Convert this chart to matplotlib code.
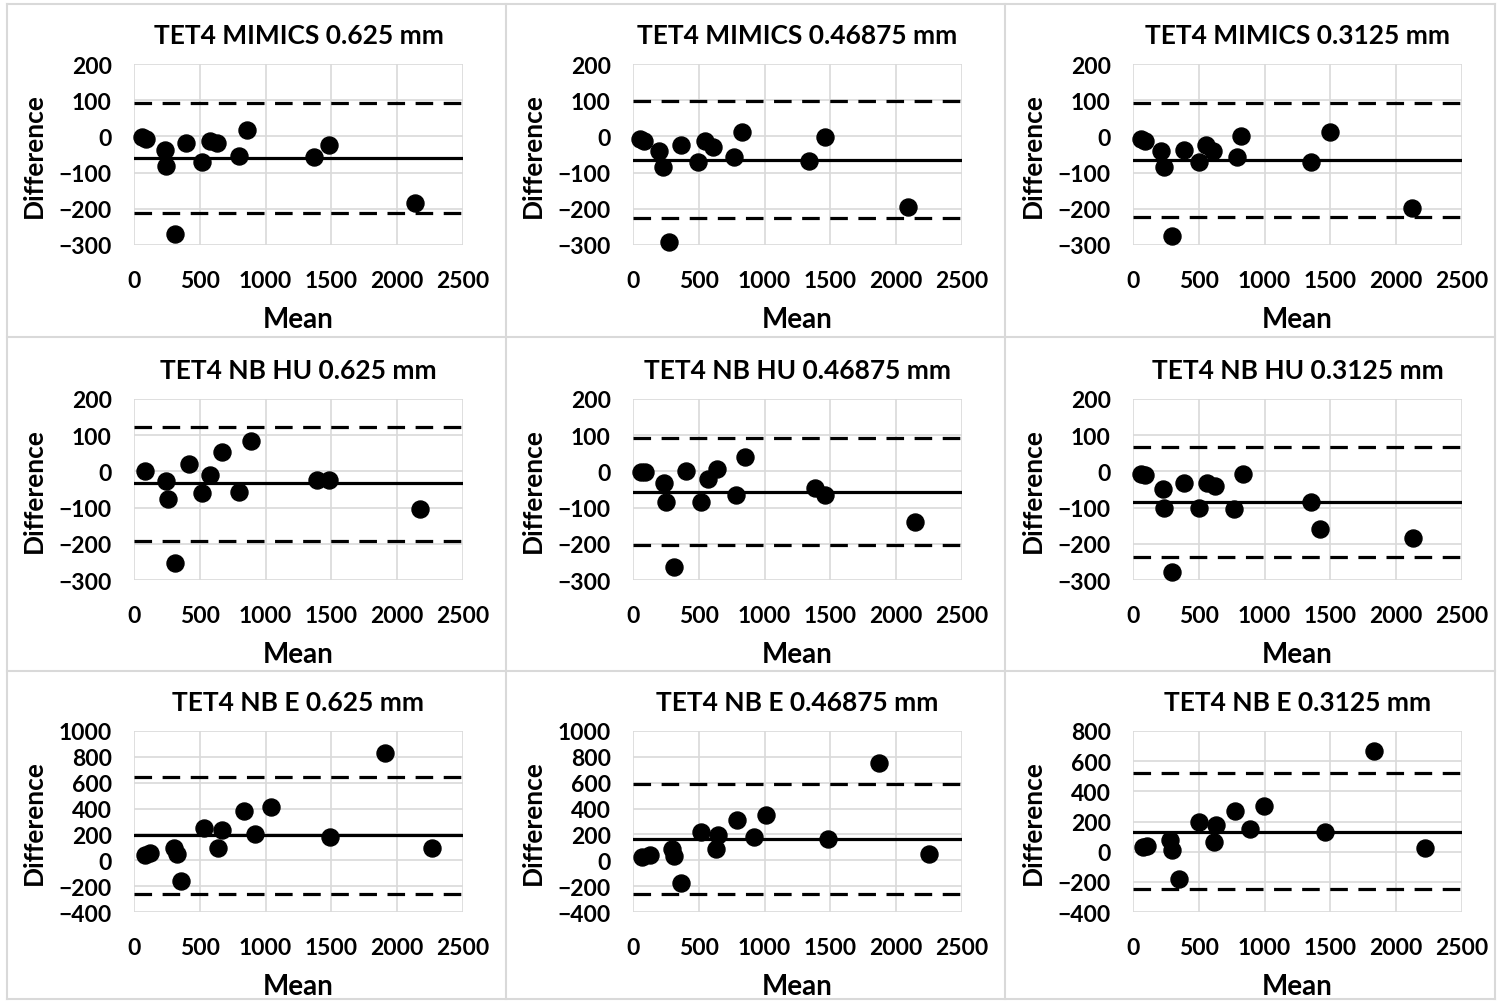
import numpy as np
import matplotlib
matplotlib.use('Agg')
import matplotlib.pyplot as plt
from matplotlib.lines import Line2D

plt.rcParams['font.family'] = ['Lato', 'DejaVu Sans']
plt.rcParams['font.weight'] = 'bold'

titles = ['TET4 MIMICS 0.625 mm', 'TET4 MIMICS 0.46875 mm', 'TET4 MIMICS 0.3125 mm',
          'TET4 NB HU 0.625 mm', 'TET4 NB HU 0.46875 mm', 'TET4 NB HU 0.3125 mm',
          'TET4 NB E 0.625 mm', 'TET4 NB E 0.46875 mm', 'TET4 NB E 0.3125 mm']

# mean of the two methods (x) and difference (y), one list per panel
means = [
    [63, 94, 233, 246, 314, 393, 519, 580, 631, 795, 856, 1368, 1479, 2138],
    [56, 86, 195, 228, 273, 365, 491, 549, 608, 767, 828, 1337, 1459, 2092],
    [61, 89, 215, 233, 296, 385, 499, 555, 608, 790, 823, 1355, 1494, 2120],
    [86, 246, 258, 314, 415, 519, 580, 671, 795, 892, 1391, 1482, 2173],
    [63, 94, 233, 253, 309, 405, 517, 570, 638, 785, 853, 1381, 1457, 2146],
    [61, 94, 228, 238, 296, 385, 504, 562, 620, 765, 833, 1355, 1418, 2128],
    [86, 124, 301, 327, 360, 529, 638, 669, 836, 922, 1044, 1487, 1905, 2267],
    [71, 127, 299, 309, 362, 519, 628, 646, 793, 917, 1013, 1482, 1869, 2247],
    [76, 106, 284, 296, 352, 499, 613, 633, 778, 892, 993, 1461, 1834, 2222],
]
diffs = [
    [-2, -7, -37, -81, -270, -19, -70, -12, -18, -53, 18, -58, -24, -184],
    [-6, -12, -40, -84, -293, -24, -70, -12, -28, -58, 11, -67, -3, -194],
    [-6, -12, -40, -84, -274, -37, -72, -24, -40, -58, 2, -72, 11, -199],
    [0, -26, -75, -252, 20, -59, -10, 53, -57, 85, -24, -24, -103],
    [-3, -3, -33, -84, -263, 0, -84, -21, 8, -65, 41, -45, -65, -139],
    [-7, -10, -49, -102, -279, -31, -100, -33, -40, -105, -6, -84, -158, -184],
    [39, 54, 98, 46, -160, 253, 98, 235, 381, 201, 412, 183, 827, 98],
    [28, 41, 85, 34, -173, 222, 85, 196, 312, 183, 350, 162, 755, 52],
    [31, 38, 75, 11, -183, 197, 64, 175, 270, 148, 303, 133, 667, 22],
]
bias = [-61, -65, -64, -33, -56, -85, 196, 162, 133]
upper_loa = [91, 99, 91, 122, 93, 67, 647, 588, 519]
lower_loa = [-212, -226, -222, -193, -204, -237, -258, -263, -245]

y_ranges = [(-300, 200, 100)] * 6 + [(-400, 1000, 200), (-400, 1000, 200), (-400, 800, 200)]
x_ticks = [0, 500, 1000, 1500, 2000, 2500]

W, H = 1497, 1003
fig = plt.figure(figsize=(W / 100, H / 100), dpi=100)

col_left = [134, 633, 1133]
row_top = [65, 400, 732]
aw, ah = 329, 181

for i in range(9):
    r, c = divmod(i, 3)
    ax = fig.add_axes([col_left[c] / W, 1 - (row_top[r] + ah) / H, aw / W, ah / H])
    ymin, ymax, ystep = y_ranges[i]
    ax.set_xlim(0, 2500)
    ax.set_ylim(ymin, ymax)
    ax.set_xticks(x_ticks)
    ax.set_yticks(np.arange(ymin, ymax + 1, ystep))
    ax.grid(True, color='#d9d9d9', linewidth=1.2)
    ax.set_axisbelow(True)
    for s in ax.spines.values():
        s.set_visible(False)
    ax.tick_params(length=0, labelsize=16.5)
    ax.tick_params(axis='x', pad=18)
    ax.tick_params(axis='y', pad=16)
    for lab in ax.get_xticklabels() + ax.get_yticklabels():
        lab.set_fontweight('bold')

    ax.axhline(bias[i], color='black', linewidth=2.3, zorder=2)
    ax.axhline(upper_loa[i], color='black', linewidth=2.3, linestyle=(0, (5.5, 3.3)), zorder=2)
    ax.axhline(lower_loa[i], color='black', linewidth=2.3, linestyle=(0, (5.5, 3.3)), zorder=2)
    ax.scatter(means[i], diffs[i], s=150, color='black', zorder=3, clip_on=False)

    ax.set_title(titles[i], fontsize=19, fontweight='bold', pad=15)
    ax.set_xlabel('Mean', fontsize=20, fontweight='bold', labelpad=11)
    ax.set_ylabel('Difference', fontsize=19, fontweight='bold', labelpad=9)

# light panel borders
border = '#d9d9d9'
for x in [7, 506, 1005, 1495]:
    fig.add_artist(Line2D([x / W, x / W], [1 - 5 / H, 1 - 1000 / H], color=border, linewidth=1.5))
for y in [5, 338, 672, 1000]:
    fig.add_artist(Line2D([7 / W, 1495 / W], [1 - y / H, 1 - y / H], color=border, linewidth=1.5))

fig.savefig('out.png', dpi=100)
